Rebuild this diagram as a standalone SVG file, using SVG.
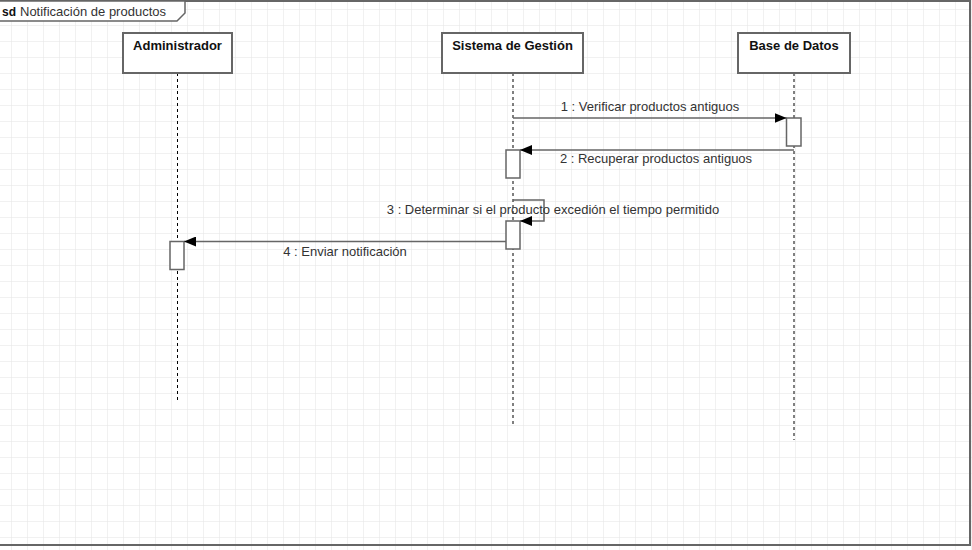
<svg xmlns="http://www.w3.org/2000/svg" width="972" height="550" viewBox="0 0 972 550">
<defs>
<pattern id="grid" x="11" y="9" width="16" height="16" patternUnits="userSpaceOnUse">
<path d="M0 0 H16 M0 0 V16" fill="none" stroke="#e4e4e4" stroke-width="1"/>
</pattern>
<marker id="arr" viewBox="0 0 12 10" refX="12" refY="5" markerWidth="12" markerHeight="10" markerUnits="userSpaceOnUse" orient="auto">
<path d="M0 0 L12 5 L0 10 Z" fill="#000"/>
</marker>
</defs>
<style>
.lbl{font-family:"Liberation Sans",Arial,sans-serif;font-size:13px;fill:#333}
.head{font-family:"Liberation Sans",Arial,sans-serif;font-size:13px;font-weight:bold;fill:#111;text-anchor:middle}
.box{fill:#fff;stroke:#666;stroke-width:2}
.life{stroke:#000;stroke-width:1;stroke-dasharray:3 3;fill:none}
.act{fill:#fff;stroke:#666;stroke-width:1.5}
.msg{stroke:#666;stroke-width:1.5;fill:none}
</style>
<rect width="972" height="550" fill="#fff"/>
<rect x="0" y="0" width="972" height="550" fill="url(#grid)"/>
<g id="frame">
<rect x="-1" y="1" width="971" height="544" fill="none" stroke="#666" stroke-width="2"/>
<path d="M-1 1 H185 V13 L177 21 H-1" fill="#fff" stroke="#666" stroke-width="1.5"/>
<text x="2" y="16" style="font-family:'Liberation Sans',Arial,sans-serif;font-size:12px;font-weight:bold;fill:#111">sd</text>
<text x="20" y="16" class="lbl">Notificación de productos</text>
</g>
<g id="admin">
<line class="life" x1="177.5" y1="73" x2="177.5" y2="401"/>
<rect class="box" x="123" y="33" width="109" height="40"/>
<text class="head" x="177.5" y="50">Administrador</text>
</g>
<g id="sistema">
<line class="life" x1="513" y1="73" x2="513" y2="425"/>
<rect class="box" x="442" y="33" width="141" height="40"/>
<text class="head" x="512.5" y="50">Sistema de Gestión</text>
</g>
<g id="bd">
<line class="life" x1="794" y1="73" x2="794" y2="440"/>
<rect class="box" x="738" y="33" width="112" height="40"/>
<text class="head" x="794" y="50">Base de Datos</text>
</g>
<g id="activations">
<rect class="act" x="786.5" y="118" width="14.5" height="28"/>
<rect class="act" x="506" y="150" width="14" height="28"/>
<rect class="act" x="506" y="221" width="14" height="28"/>
<rect class="act" x="170" y="241.5" width="14" height="28"/>
</g>
<g id="connectors">
<line class="msg" x1="513" y1="118" x2="786.5" y2="118" marker-end="url(#arr)"/>
<text class="lbl" x="650" y="111" text-anchor="middle">1 : Verificar productos antiguos</text>
<line class="msg" x1="794" y1="150" x2="520" y2="150" marker-end="url(#arr)"/>
<text class="lbl" x="656" y="163" text-anchor="middle">2 : Recuperar productos antiguos</text>
<path class="msg" d="M513 200 H544 V221 H520" marker-end="url(#arr)"/>
<text class="lbl" x="553" y="214" text-anchor="middle">3 : Determinar si el producto excedión el tiempo permitido</text>
<line class="msg" x1="506" y1="241.5" x2="184" y2="241.5" marker-end="url(#arr)"/>
<text class="lbl" x="345" y="256" text-anchor="middle">4 : Enviar notificación</text>
</g>
</svg>
